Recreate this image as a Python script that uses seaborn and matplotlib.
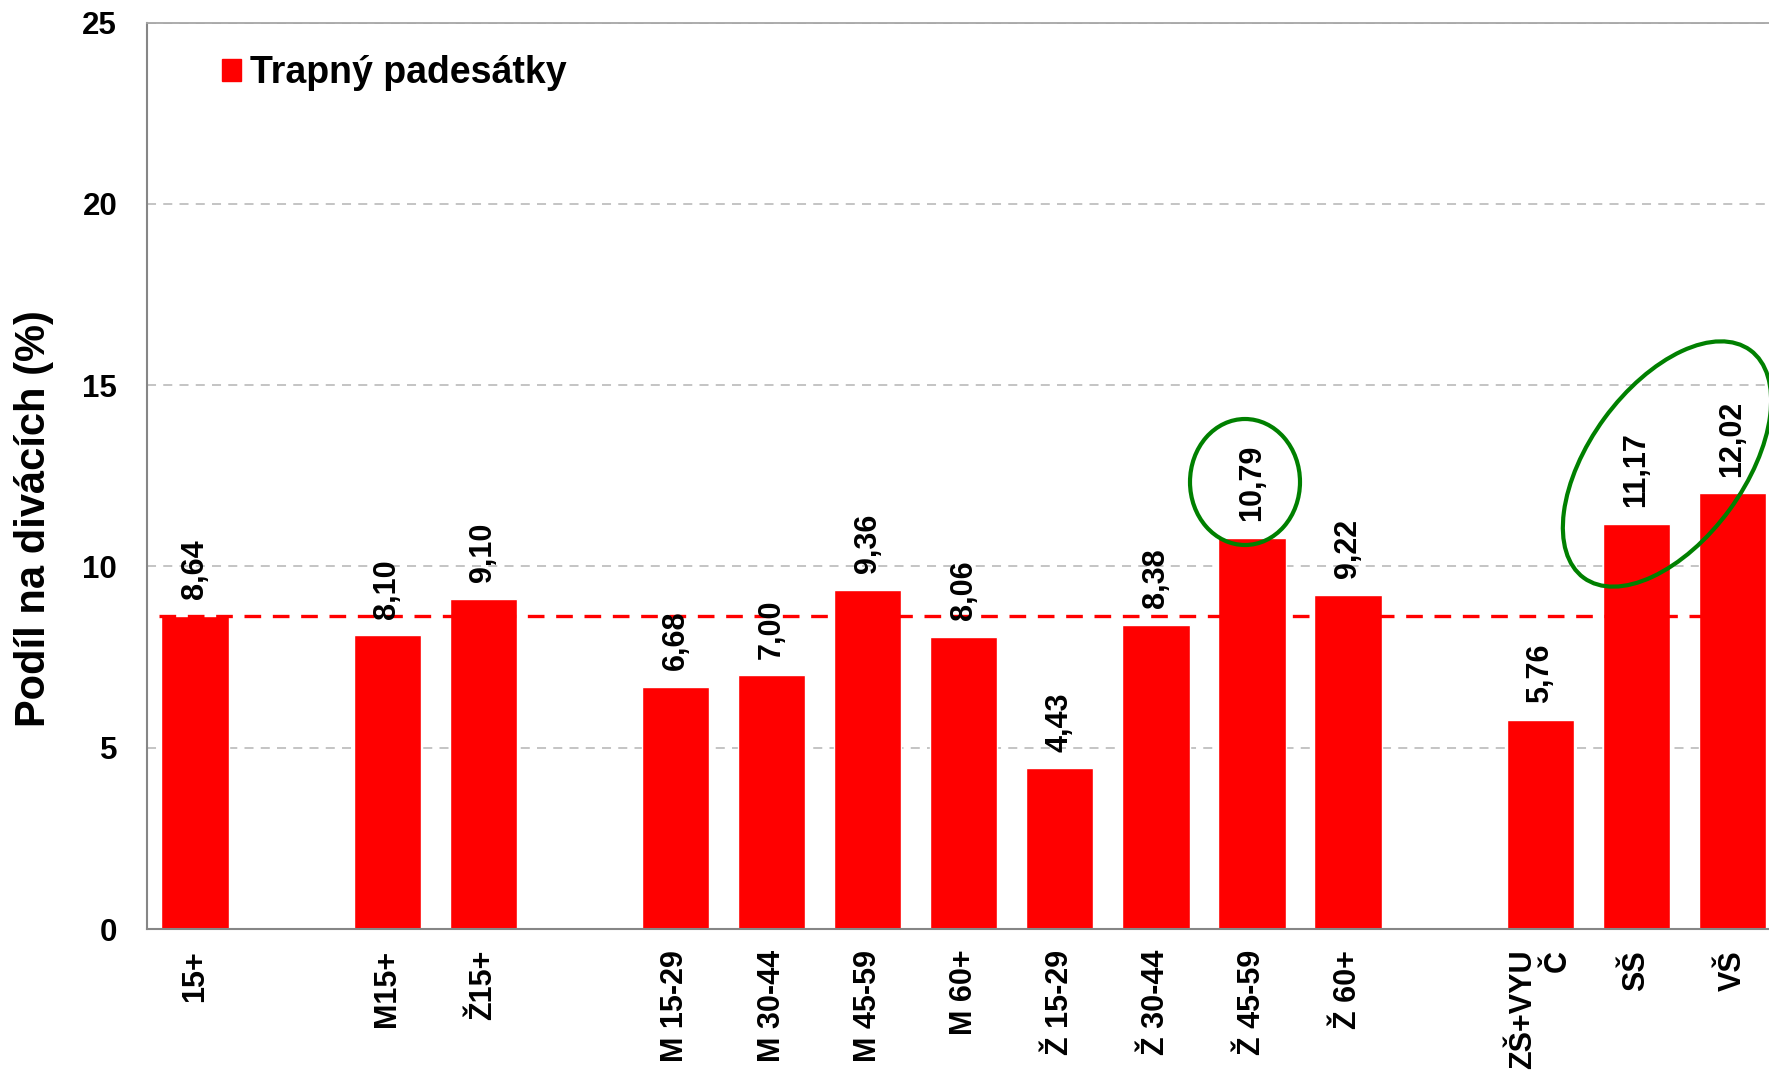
import numpy as np
import pandas as pd
import matplotlib
matplotlib.use("Agg")
import matplotlib.pyplot as plt
from matplotlib.patches import Ellipse, Patch
from matplotlib.transforms import IdentityTransform
import seaborn as sns

# data (blank names are the empty slots between groups)
categories = ["15+", " ", "M15+", "Ž15+", "  ",
              "M 15-29", "M 30-44", "M 45-59", "M 60+",
              "Ž 15-29", "Ž 30-44", "Ž 45-59", "Ž 60+", "   ",
              "ZŠ+VYU\nČ", "SŠ", "VŠ"]
shares = [8.64, np.nan, 8.10, 9.10, np.nan,
          6.68, 7.00, 9.36, 8.06,
          4.43, 8.38, 10.79, 9.22, np.nan,
          5.76, 11.17, 12.02]
series_name = "Trapný padesátky"
reference = 8.64   # 15+ level, dashed line
y_ticks = [0, 5, 10, 15, 20, 25]

sns.set_style("white")
plt.rcParams["font.family"] = ["Liberation Sans", "DejaVu Sans"]
plt.rcParams["font.weight"] = "bold"
plt.rcParams["text.color"] = "black"
plt.rcParams["xtick.labelcolor"] = "black"
plt.rcParams["ytick.labelcolor"] = "black"
plt.rcParams["axes.labelcolor"] = "black"

df = pd.DataFrame({"group": categories, "share": shares})

fig = plt.figure(figsize=(17.69, 10.74), dpi=100)
ax = fig.add_axes([0.0831, 0.135, 0.9169, 0.844])

sns.barplot(data=df, x="group", y="share", order=categories, color="#FF0000",
            saturation=1, width=0.7, errorbar=None, ax=ax)

x_right = 16.38   # chart is cut off at the right edge
ax.set_ylim(0, 25)
ax.set_yticks(y_ticks)
ax.set_axisbelow(True)
ax.yaxis.grid(True, color="#BFBFBF", linestyle=(0, (5, 4)), linewidth=1.3)

# value labels
for i, v in enumerate(shares):
    if np.isnan(v):
        continue
    ax.annotate(f"{v:.2f}".replace(".", ","), (i, v), xytext=(0, 12),
                textcoords="offset points", rotation=90, ha="center", va="bottom",
                fontsize=22, fontweight="bold", color="black")

# dashed reference line from the first bar to the right edge
x0 = ax.patches[0].get_x() - 0.03
ax.plot([x0, x_right], [reference, reference], color="#FF0000",
        linewidth=2.4, dashes=(5, 3.5))

# axes styling
ax.spines["right"].set_visible(False)
for side in ["left", "bottom"]:
    ax.spines[side].set_color("#868686")
    ax.spines[side].set_linewidth(1.5)
ax.spines["top"].set_color("#A6A6A6")
ax.spines["top"].set_linewidth(1.3)

ax.set_xticks(np.arange(-0.5, x_right, 1), minor=True)
ax.tick_params(axis="x", which="major", length=0, pad=15, labelsize=22, rotation=90)
ax.tick_params(axis="x", which="minor", length=7, width=1.5, color="#868686")
ax.tick_params(axis="y", length=6.5, width=1.5, color="#868686", pad=15, labelsize=22.5)
for lab in ax.get_xticklabels():
    lab.set_multialignment("right")
    lab.set_fontweight("bold")
for lab in ax.get_yticklabels():
    lab.set_fontweight("bold")

ax.set_xlabel("")
ax.set_ylabel("Podíl na divácích (%)", fontsize=30, fontweight="bold")
ax.yaxis.set_label_coords(-0.0573, 0.4525)

ax.legend(handles=[Patch(color="#FF0000", label=series_name)], loc="upper left",
          bbox_to_anchor=(0.0462, 0.964), frameon=False, fontsize=27,
          handlelength=0.5, handleheight=0.5, handletextpad=0.25, borderpad=0,
          borderaxespad=0)

# green highlight ellipses (pixel coordinates)
fig.add_artist(Ellipse((1245, 592), 110, 126, angle=0, transform=IdentityTransform(),
                       fill=False, edgecolor="#008000", linewidth=3, clip_on=False))
fig.add_artist(Ellipse((1667, 610), 282, 155, angle=53.8, transform=IdentityTransform(),
                       fill=False, edgecolor="#008000", linewidth=3, clip_on=False))

ax.set_xlim(-0.5, x_right)
fig.savefig("out.png", dpi=100)
